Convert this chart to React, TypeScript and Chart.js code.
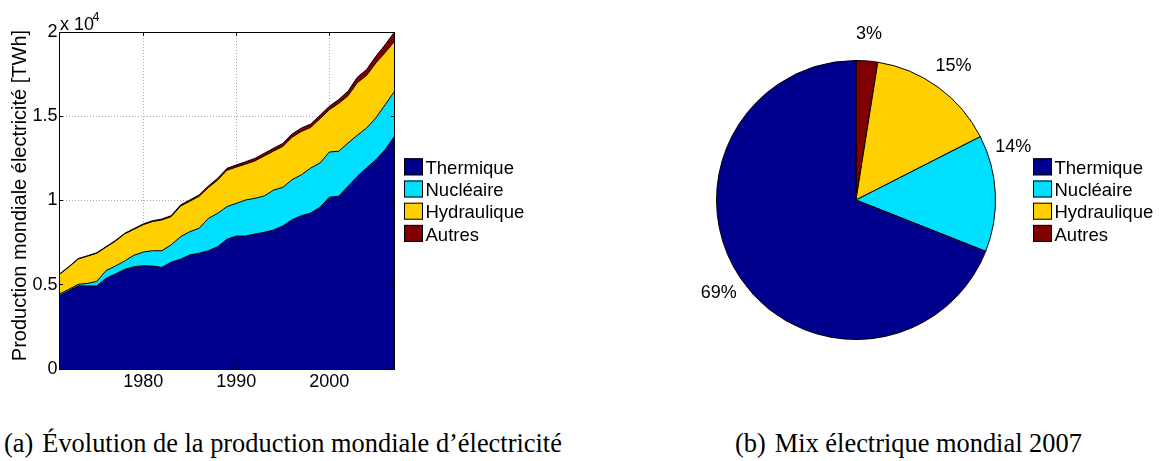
import React, { useEffect, useRef } from "react";
import { Chart, registerables } from "chart.js";

Chart.register(...registerables);

// ---------- data ----------
const years = [
  1971, 1972, 1973, 1974, 1975, 1976, 1977, 1978, 1979, 1980,
  1981, 1982, 1983, 1984, 1985, 1986, 1987, 1988, 1989, 1990,
  1991, 1992, 1993, 1994, 1995, 1996, 1997, 1998, 1999, 2000,
  2001, 2002, 2003, 2004, 2005, 2006, 2007,
];

// TWh, per source (stacked in the chart)
const thermique = [
  4350, 4650, 4930, 4930, 4930, 5380, 5640, 5910, 6070, 6130,
  6110, 6030, 6340, 6510, 6770, 6870, 7020, 7260, 7700, 7890,
  7890, 8010, 8110, 8250, 8490, 8860, 9100, 9260, 9600, 10200,
  10250, 10840, 11430, 11930, 12420, 13020, 13810,
];
const nucleaire = [
  100, 80, 90, 150, 270, 460, 470, 500, 680, 810,
  910, 990, 1030, 1340, 1380, 1480, 1920, 1980, 1940, 1940,
  2140, 2120, 2160, 2370, 2290, 2380, 2430, 2670, 2630, 2680,
  2670, 2570, 2440, 2370, 2480, 2670, 2670,
];
const hydraulique = [
  1170, 1320, 1505, 1615, 1670, 1390, 1475, 1605, 1540, 1625,
  1730, 1825, 1670, 1815, 1805, 1895, 1825, 1975, 2155, 2150,
  2130, 2220, 2370, 2310, 2430, 2515, 2570, 2410, 2625, 2510,
  2840, 2800, 3120, 3120, 3260, 3090, 2970,
];
const autres = [
  20, 20, 25, 25, 30, 30, 35, 35, 40, 45,
  50, 55, 60, 65, 75, 85, 95, 105, 115, 130,
  140, 150, 160, 170, 180, 195, 200, 200, 205, 200,
  230, 270, 320, 350, 400, 470, 550,
];

const seriesLabels = ["Thermique", "Nucléaire", "Hydraulique", "Autres"];
const seriesColors = ["#00008F", "#00DFFF", "#FFCF00", "#800000"];

const xTicks = [1980, 1990, 2000];
const yTicks = [0, 5000, 10000, 15000, 20000];
const yMultiplierExp = "4";
const yTitle = "Production mondiale électricité [TWh]";

// 2007 mix, percent (same order as seriesLabels)
const mix2007 = [69.0, 13.5, 15.0, 2.5];

const captionA = "Évolution de la production mondiale d’électricité";
const captionB = "Mix électrique mondial 2007";

// ---------- helpers ----------
const SANS = '"Liberation Sans", Arial, Helvetica, sans-serif';

function drawLegend(ctx: CanvasRenderingContext2D, x: number, top: number) {
  ctx.save();
  seriesLabels.forEach((lab, i) => {
    const t = top + i * 22.2;
    ctx.fillStyle = seriesColors[i];
    ctx.fillRect(x, t, 19, 17);
    ctx.strokeStyle = "#000";
    ctx.lineWidth = 1;
    ctx.strokeRect(x + 0.5, t + 0.5, 18, 16);
    ctx.fillStyle = "#000";
    ctx.font = `18.5px ${SANS}`;
    ctx.textAlign = "left";
    ctx.textBaseline = "alphabetic";
    ctx.fillText(lab, x + 21.5, t + 15.6);
  });
  ctx.restore();
}

const areaDecor = {
  id: "areaDecor",
  afterDraw(chart: any) {
    const { ctx, chartArea: a, scales } = chart;
    const x = scales.x;
    const y = scales.y;
    ctx.save();
    ctx.strokeStyle = "#000";
    ctx.lineWidth = 1;
    const L = 3.5;
    const left = Math.floor(a.left) + 0.5;
    const right = Math.floor(a.right) + 0.5;
    const top = Math.floor(a.top) + 0.5;
    const bottom = Math.floor(a.bottom) + 0.5;
    ctx.beginPath();
    xTicks.forEach((v) => {
      const px = Math.floor(x.getPixelForValue(v)) + 0.5;
      ctx.moveTo(px, bottom);
      ctx.lineTo(px, bottom - L);
      ctx.moveTo(px, top);
      ctx.lineTo(px, top + L);
    });
    yTicks.forEach((v) => {
      const py = Math.floor(y.getPixelForValue(v)) + 0.5;
      ctx.moveTo(left, py);
      ctx.lineTo(left + L, py);
      ctx.moveTo(right, py);
      ctx.lineTo(right - L, py);
    });
    ctx.stroke();
    ctx.strokeRect(left, top, right - left, bottom - top);

    // multiplier "x 10^4"
    ctx.fillStyle = "#000";
    ctx.textAlign = "left";
    ctx.textBaseline = "alphabetic";
    ctx.font = `18px ${SANS}`;
    ctx.fillText("x 10", 60, 30);
    ctx.font = `12.5px ${SANS}`;
    ctx.fillText(yMultiplierExp, 92.5, 20.7);

    // y title
    ctx.save();
    ctx.translate(20, 195.5);
    ctx.rotate(-Math.PI / 2);
    ctx.font = `20px ${SANS}`;
    ctx.textAlign = "center";
    ctx.textBaseline = "middle";
    ctx.fillText(yTitle, 0, 0);
    ctx.restore();

    drawLegend(ctx, 404, 158.3);
    ctx.restore();
  },
};

const PIE_LEFT = 660;
const LEGEND_TOP = 158.3;

const pieDecor = {
  id: "pieDecor",
  afterDraw(chart: any) {
    const { ctx } = chart;
    const meta = chart.getDatasetMeta(0);
    const shares = chart.data.datasets[0].data as number[];
    const legendX = 1033 - PIE_LEFT;
    const legendBottom = LEGEND_TOP + 4 * 22.2;
    ctx.save();
    ctx.font = `18px ${SANS}`;
    ctx.fillStyle = "#000";
    ctx.textAlign = "center";
    ctx.textBaseline = "middle";
    meta.data.forEach((arc: any, i: number) => {
      const p = arc.getProps(["x", "y", "startAngle", "endAngle", "outerRadius"], true);
      const mid = (p.startAngle + p.endAngle) / 2;
      const R = p.outerRadius * 1.19;
      let lx = p.x + R * Math.cos(mid);
      let ly = p.y + R * Math.sin(mid);
      const text = Math.round(shares[i]) + "%";
      const w = ctx.measureText(text).width;
      const hh = 11.5;
      if (lx + w / 2 > legendX && ly + hh > LEGEND_TOP && ly - hh < legendBottom) {
        ly = LEGEND_TOP - hh;
        lx = p.x + Math.sqrt(Math.max(R * R - (ly - p.y) * (ly - p.y), 0));
      }
      ctx.fillText(text, lx, ly);
    });
    drawLegend(ctx, legendX, LEGEND_TOP);
    ctx.restore();
  },
};

function AreaChart() {
  const ref = useRef<HTMLCanvasElement>(null);
  useEffect(() => {
    const series = [thermique, nucleaire, hydraulique, autres];
    const chart = new Chart(ref.current as HTMLCanvasElement, {
      type: "line",
      data: {
        datasets: series.map((vals, i) => ({
          label: seriesLabels[i],
          data: years.map((yr, j) => ({ x: yr, y: vals[j] })),
          backgroundColor: seriesColors[i],
          borderColor: "#000",
          borderWidth: 1,
          pointRadius: 0,
          pointHoverRadius: 0,
          fill: i === 0 ? "origin" : "-1",
          tension: 0,
        })),
      },
      options: {
        animation: false,
        responsive: false,
        events: [],
        layout: { padding: { top: 32, right: 165.5, left: 0, bottom: 0 } },
        plugins: {
          legend: { display: false },
          tooltip: { enabled: false },
          filler: { drawTime: "beforeDatasetsDraw", propagate: false },
        },
        scales: {
          x: {
            type: "linear",
            min: 1971,
            max: 2007,
            afterBuildTicks: (s: any) => {
              s.ticks = xTicks.map((v) => ({ value: v }));
            },
            afterFit: (s: any) => {
              s.height = 31;
            },
            grid: { color: "#a8a8a8", lineWidth: 1, drawTicks: false },
            border: { display: false, dash: [1, 2] },
            ticks: {
              color: "#000",
              font: { family: SANS, size: 18 },
              padding: 2,
              maxRotation: 0,
              autoSkip: false,
              callback: (v: any) => String(v),
            },
          },
          y: {
            stacked: true,
            min: 0,
            max: 20000,
            afterBuildTicks: (s: any) => {
              s.ticks = yTicks.map((v) => ({ value: v }));
            },
            afterFit: (s: any) => {
              s.width = 59.5;
            },
            grid: { color: "#a8a8a8", lineWidth: 1, drawTicks: false },
            border: { display: false, dash: [1, 2] },
            ticks: {
              color: "#000",
              font: { family: SANS, size: 18 },
              padding: 2,
              callback: (v: any) => String(Number(v) / 10000),
            },
          },
        },
      },
      plugins: [areaDecor],
    } as any);
    return () => chart.destroy();
  }, []);
  return (
    <canvas
      ref={ref}
      width={560}
      height={400}
      style={{ position: "absolute", left: 0, top: 0, width: 560, height: 400 }}
    />
  );
}

function PieChart() {
  const ref = useRef<HTMLCanvasElement>(null);
  useEffect(() => {
    // pie is drawn clockwise from 12 o'clock: Autres, Hydraulique, Nucléaire, Thermique
    const order = [3, 2, 1, 0];
    const chart = new Chart(ref.current as HTMLCanvasElement, {
      type: "pie",
      data: {
        labels: order.map((i) => seriesLabels[i]),
        datasets: [
          {
            data: order.map((i) => mix2007[i]),
            backgroundColor: order.map((i) => seriesColors[i]),
            borderColor: "#000",
            borderWidth: 1,
            hoverOffset: 0,
          },
        ],
      },
      options: {
        animation: false,
        responsive: false,
        events: [],
        layout: { padding: { left: 56, right: 163, top: 60, bottom: 60 } },
        plugins: {
          legend: { display: false },
          tooltip: { enabled: false },
        },
      },
      plugins: [pieDecor],
    } as any);
    return () => chart.destroy();
  }, []);
  return (
    <canvas
      ref={ref}
      width={499}
      height={400}
      style={{ position: "absolute", left: PIE_LEFT, top: 0, width: 499, height: 400 }}
    />
  );
}

const captionStyle: React.CSSProperties = {
  position: "absolute",
  top: 430,
  fontFamily: '"Liberation Serif", "Times New Roman", serif',
  fontSize: 26.4,
  lineHeight: "26.4px",
  color: "#000",
  whiteSpace: "nowrap",
};

export default function App() {
  return (
    <div
      style={{
        position: "fixed",
        left: 0,
        top: 0,
        width: 1159,
        height: 461,
        background: "#fff",
        overflow: "hidden",
      }}
    >
      <AreaChart />
      <PieChart />
      <div style={{ ...captionStyle, left: 4 }}>
        <span>(a)</span>
        <span style={{ marginLeft: 9 }}>{captionA}</span>
      </div>
      <div style={{ ...captionStyle, left: 735 }}>
        <span>(b)</span>
        <span style={{ marginLeft: 9 }}>{captionB}</span>
      </div>
    </div>
  );
}
